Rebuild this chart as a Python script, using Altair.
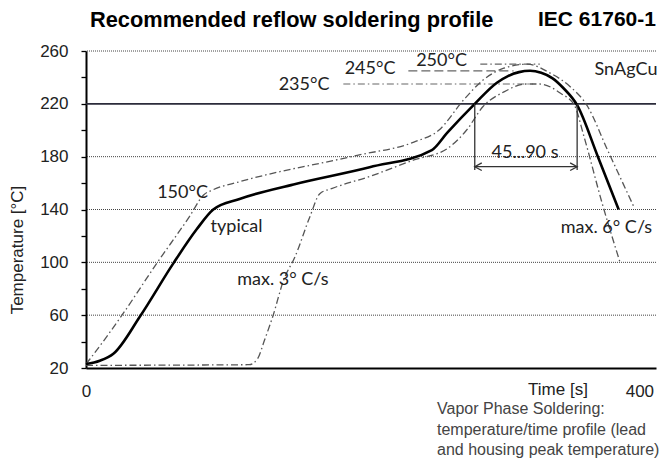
import altair as alt
import pandas as pd

# ---- curve data (time [s], temperature [°C]) ----
typ_t = [0, 10, 20, 39, 63, 80, 92, 111, 150, 205, 250, 261, 281, 297, 305, 313, 321, 329, 337, 345, 355, 370, 385]
typ_T = [23, 25.5, 31, 59, 99, 125, 140, 148, 159, 172, 185, 198, 220, 236, 241, 244, 245, 243.5, 239.5, 232, 219, 180, 140]

up_t = [0, 3, 26, 51, 75, 85, 92, 111, 196, 237, 255, 273, 287, 302, 319, 336, 350, 362, 377, 396]
up_T = [23, 27, 60, 99, 135, 151, 155, 161, 181, 191, 200, 223, 238, 247, 250, 243, 233, 219, 185, 142]

lo_t = [0, 118, 124, 129, 135, 143, 151, 162, 169, 178, 205, 237, 261, 275, 287, 302, 318, 328, 343, 353, 360, 373, 386]
lo_T = [22, 22.5, 27, 41, 59, 87, 104, 135, 152, 156, 165, 177.5, 186, 200, 218, 229, 235, 235, 228, 219, 195, 145, 100]

# grid / reference values
grid_T = [60, 100, 140, 180, 260]
liquidus_T = [220]
y_ticks = list(range(20, 261, 20))
x_ticks = [0, 400]

# peak reference lines
dd_ref_t1 = [186, 285]
dd_ref_t2 = [323, 328]
dd_ref_T = [235, 250]
dash_ref_t1 = [233]
dash_ref_t2 = [309]
dash_ref_T = [245]

# 45...90 s window
win_t = [281, 355]
win_T_top = [220, 220]
win_T_bot = [170, 170]
arrow_T = [172.4]

# annotations inside the plot (centre positions in data units)
ann_text = ["150°C", "typical", "max. 3° C/s", "235°C", "245°C", "250°C", "SnAgCu", "max. 6° C/s", "45...90 s"]
ann_t = [69.8, 108.8, 142.3, 157.6, 205.3, 257.0, 390.3, 376.2, 317.3]
ann_T = [152.5, 127.0, 86.8, 234.6, 246.0, 252.3, 245.5, 126.0, 182.5]

title_main = "Recommended reflow soldering profile"
title_std = "IEC 61760-1"
y_title = "Temperature [°C]"
x_title = "Time [s]"
footnote = ["Vapor Phase Soldering:", "temperature/time profile (lead", "and housing peak temperature)"]

# ---- data frames ----
curves_df = pd.DataFrame({
    "t": up_t + lo_t,
    "T": up_T + lo_T,
    "series": ["upper"] * len(up_t) + ["lower"] * len(lo_t),
})
typ_df = pd.DataFrame({"t": typ_t, "T": typ_T})
grid_df = pd.DataFrame({"T": grid_T})
liq_df = pd.DataFrame({"T": liquidus_T})
dd_df = pd.DataFrame({"t": dd_ref_t1, "t2": dd_ref_t2, "T": dd_ref_T})
dash_df = pd.DataFrame({"t": dash_ref_t1, "t2": dash_ref_t2, "T": dash_ref_T})
win_df = pd.DataFrame({"t": win_t, "T": win_T_top, "T2": win_T_bot})
arrow_df = pd.DataFrame({"t": [win_t[0]], "t2": [win_t[1]], "T": arrow_T})
arr_l_df = pd.DataFrame({"t": [win_t[0]], "T": arrow_T})
arr_r_df = pd.DataFrame({"t": [win_t[1]], "T": arrow_T})
ann_df = pd.DataFrame({"t": ann_t, "T": ann_T, "text": ann_text})

XDOM = [0, 412]
YDOM = [20, 260]

x_axis = alt.Axis(values=x_ticks, ticks=False, tickSize=0, domainColor="black", domainWidth=2,
                  grid=False, labelFont="Liberation Sans", labelFontSize=17, labelColor="#222",
                  labelPadding=15, labelFlush=False, title=None)
y_axis = alt.Axis(values=y_ticks, labelExpr="datum.value % 40 == 20 ? datum.label : ''",
                  tickSize=5, tickColor="black", tickWidth=1.3, domainColor="black", domainWidth=2,
                  grid=False, labelFont="Liberation Sans", labelFontSize=17, labelColor="#222",
                  labelPadding=13, labelFlush=False, title=None)


def X(field="t"):
    return alt.X(f"{field}:Q", scale=alt.Scale(domain=XDOM, nice=False, zero=False), axis=x_axis)


def Y(field="T"):
    return alt.Y(f"{field}:Q", scale=alt.Scale(domain=YDOM, nice=False, zero=False), axis=y_axis)


layers = []

layers.append(alt.Chart(grid_df).mark_rule(color="#444", strokeWidth=1, strokeDash=[1, 1]).encode(y=Y()))
layers.append(alt.Chart(liq_df).mark_rule(color="#2b2b3a", strokeWidth=1.7).encode(y=Y()))

layers.append(alt.Chart(dd_df).mark_rule(color="#666", strokeWidth=1.2, strokeDash=[7, 3, 1.5, 3]).encode(
    x=X(), x2=alt.X2("t2:Q"), y=Y()))
layers.append(alt.Chart(dash_df).mark_rule(color="#666", strokeWidth=1.2, strokeDash=[9, 4]).encode(
    x=X(), x2=alt.X2("t2:Q"), y=Y()))

layers.append(alt.Chart(curves_df).mark_line(interpolate="monotone", color="#555", strokeWidth=1.3,
                                             strokeDash=[7, 3, 1.5, 3]).encode(
    x=X(), y=Y(), detail="series:N"))

layers.append(alt.Chart(typ_df).mark_line(interpolate="monotone", color="black", strokeWidth=2.6).encode(
    x=X(), y=Y()))

layers.append(alt.Chart(win_df).mark_rule(color="#333", strokeWidth=1.3).encode(
    x=X(), y=Y(), y2=alt.Y2("T2:Q")))
layers.append(alt.Chart(arrow_df).mark_rule(color="#333", strokeWidth=1.3).encode(
    x=X(), x2=alt.X2("t2:Q"), y=Y()))
layers.append(alt.Chart(arr_l_df).mark_point(shape="M1,-0.55L0,0L1,0.55", filled=False, size=196,
                                             color="#333", strokeWidth=1.3, opacity=1).encode(x=X(), y=Y()))
layers.append(alt.Chart(arr_r_df).mark_point(shape="M-1,-0.55L0,0L-1,0.55", filled=False, size=196,
                                             color="#333", strokeWidth=1.3, opacity=1).encode(x=X(), y=Y()))

layers.append(alt.Chart(ann_df).mark_text(font="Lato", fontSize=18, color="#222", align="center",
                                          baseline="middle").encode(x=X(), y=Y(), text="text:N"))

one = pd.DataFrame({"a": [0]})


def label(txt, px, py, **kw):
    return alt.Chart(one).mark_text(**kw).encode(x=alt.value(px), y=alt.value(py), text=alt.value(txt))


layers.append(label(title_main, 4, -31, font="Liberation Sans", fontWeight="bold", fontSize=21.8,
                    align="left", baseline="middle", color="black"))
layers.append(label(title_std, 452, -31, font="Liberation Sans", fontWeight="bold", fontSize=21,
                    align="left", baseline="middle", color="black"))
layers.append(label(y_title, -68, 199, font="Liberation Sans", fontSize=17, angle=270,
                    align="center", baseline="middle", color="#222"))
layers.append(label(x_title, 472, 339, font="Liberation Sans", fontSize=17,
                    align="center", baseline="middle", color="#222"))
for i, line in enumerate(footnote):
    layers.append(label(line, 351, 363 + 20.5 * i, font="Liberation Sans", fontSize=16,
                        align="left", baseline="alphabetic", color="#444"))

chart = alt.layer(*layers).properties(
    width=570, height=317,
    padding={"left": 78, "top": 43, "right": 3, "bottom": 90},
    autosize=alt.AutoSizeParams(type="none"),
    background="white",
).configure_view(stroke=None)

chart.save("out.html", embed_options={"renderer": "svg", "actions": False})
